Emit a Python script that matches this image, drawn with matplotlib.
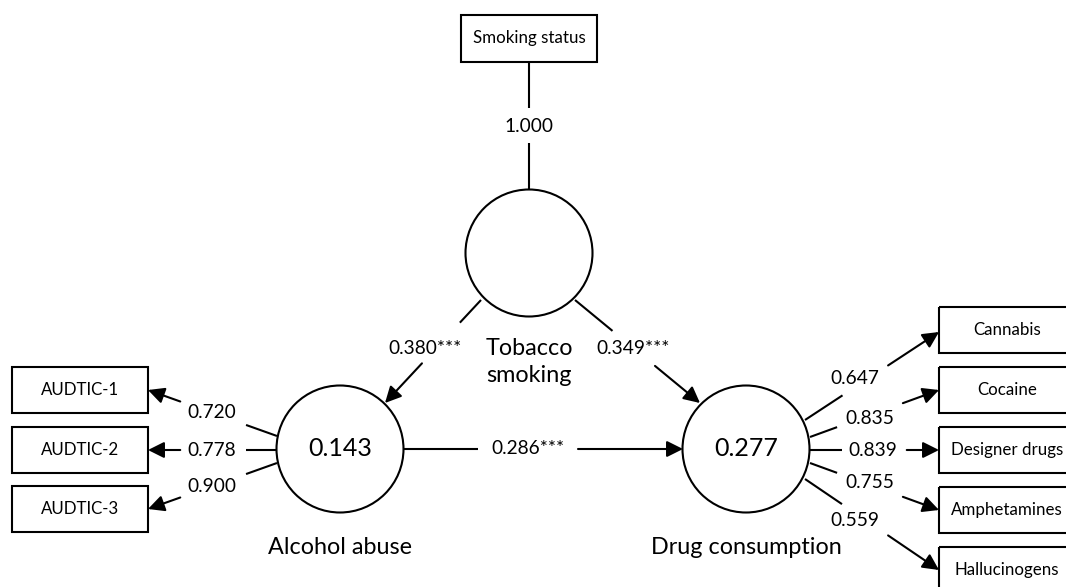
import matplotlib
matplotlib.use("Agg")
import matplotlib.pyplot as plt
from matplotlib.patches import Circle, Rectangle, FancyArrowPatch

plt.rcParams['font.family'] = ['Lato', 'DejaVu Sans']

# ---- data ----
latent_names = ["Tobacco\nsmoking", "Alcohol abuse", "Drug consumption"]
r_squared = ["", "0.143", "0.277"]
smoking_indicator = "Smoking status"
smoking_loading = "1.000"
alcohol_indicators = ["AUDTIC-1", "AUDTIC-2", "AUDTIC-3"]
alcohol_loadings = ["0.720", "0.778", "0.900"]
drug_indicators = ["Cannabis", "Cocaine", "Designer drugs", "Amphetamines", "Hallucinogens"]
drug_loadings = ["0.647", "0.835", "0.839", "0.755", "0.559"]
path_labels = ["0.380***", "0.349***", "0.286***"]  # tob->alc, tob->drug, alc->drug

# ---- layout (pixel space) ----
W, H = 1066, 587
fig = plt.figure(figsize=(W / 100, H / 100), dpi=100)
ax = fig.add_axes([0, 0, 1, 1])
ax.set_xlim(0, W)
ax.set_ylim(H, 0)
ax.axis('off')

LW = 1.5
FS_LAT = 16.8
FS_R2 = 18
FS_LAB = 13.8
FS_BOX = 12.2
tob_c, alc_c, drg_c = (529, 253), (340, 449), (746, 449)
R = 63.5

for c in (tob_c, alc_c, drg_c):
    ax.add_patch(Circle(c, R, fill=False, lw=LW, ec='black'))

ax.text(tob_c[0], 362, latent_names[0], ha='center', va='center', fontsize=FS_LAT, linespacing=1.35)
ax.text(alc_c[0], 548, latent_names[1], ha='center', va='center', fontsize=FS_LAT)
ax.text(drg_c[0], 548, latent_names[2], ha='center', va='center', fontsize=FS_LAT)
ax.text(alc_c[0], alc_c[1], r_squared[1], ha='center', va='center', fontsize=FS_R2)
ax.text(drg_c[0], drg_c[1], r_squared[2], ha='center', va='center', fontsize=FS_R2)


def box(cx, cy, text, w=136, h=46):
    ax.add_patch(Rectangle((cx - w / 2, cy - h / 2), w, h, fill=False, lw=LW, ec='black'))
    ax.text(cx, cy, text, ha='center', va='center', fontsize=FS_BOX)


def edge(p0, p1, t0, t1, label, lpos, arrow=True, fs=FS_LAB):
    (x0, y0), (x1, y1) = p0, p1
    a = (x0 + (x1 - x0) * t0, y0 + (y1 - y0) * t0)
    b = (x0 + (x1 - x0) * t1, y0 + (y1 - y0) * t1)
    ax.plot([x0, a[0]], [y0, a[1]], color='black', lw=LW, solid_capstyle='butt')
    if arrow:
        ax.add_patch(FancyArrowPatch(b, p1, arrowstyle='-|>,head_length=0.7,head_width=0.35',
                                     mutation_scale=14, lw=LW, color='black',
                                     shrinkA=0, shrinkB=0))
    else:
        ax.plot([b[0], x1], [b[1], y1], color='black', lw=LW, solid_capstyle='butt')
    ax.text(lpos[0], lpos[1], label, ha='center', va='center', fontsize=fs)


# smoking status
box(529, 38.5, smoking_indicator, w=136, h=47)
edge((529, 62), (529, 190), 0.36, 0.63, smoking_loading, (529, 127), arrow=False)

# alcohol indicators
alc_box_y = [390, 450, 509]
alc_starts = [(277, 436), (277, 450), (277, 463)]
alc_lab = [(212, 413), (212, 450), (212, 487)]
for name, load, by, st, lp in zip(alcohol_indicators, alcohol_loadings, alc_box_y, alc_starts, alc_lab):
    box(80, by, name)
    edge(st, (148, by), 0.24, 0.75, load, lp)

# drug indicators
drg_box_y = [330, 390, 450, 510, 570]
drg_starts = [(805, 420), (810, 437), (810, 450), (810, 463), (805, 479)]
drg_gaps = [(0.28, 0.62), (0.21, 0.72), (0.25, 0.75), (0.21, 0.72), (0.276, 0.62)]
drg_lab = [(855, 378), (870, 418), (873, 450), (870, 483), (855, 520)]
for name, load, by, st, g, lp in zip(drug_indicators, drug_loadings, drg_box_y, drg_starts, drg_gaps, drg_lab):
    ax.add_patch(Rectangle((939, by - 23), 136, 46, fill=False, lw=LW, ec='black', clip_on=True))
    ax.text(1007, by, name, ha='center', va='center', fontsize=FS_BOX)
    edge(st, (939, by + 2 if by == 330 else by), g[0], g[1], load, lp)

# structural paths
edge((481, 300), (385, 403), 0.22, 0.615, path_labels[0], (425, 348))
edge((575, 300), (700, 403), 0.30, 0.64, path_labels[1], (633, 348))
edge((403, 449), (683, 449), 0.268, 0.625, path_labels[2], (528, 449))

fig.savefig("out.png", dpi=100)
